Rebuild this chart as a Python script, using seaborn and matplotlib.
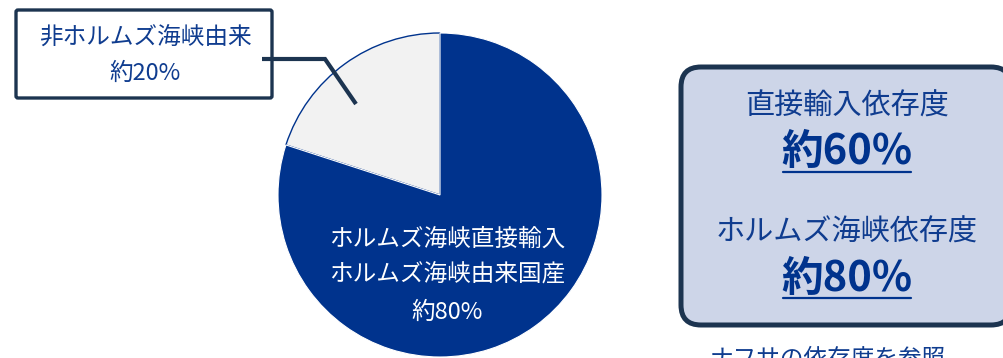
import matplotlib
matplotlib.use("Agg")
import matplotlib.pyplot as plt
from matplotlib.patches import FancyBboxPatch, Rectangle
from matplotlib.lines import Line2D
import seaborn as sns

# Shares of supply by origin (percent)
categories = ["非ホルムズ海峡由来", "ホルムズ海峡直接輸入\nホルムズ海峡由来国産"]
shares = [20, 80]

# Summary panel
summary_labels = ["直接輸入依存度", "ホルムズ海峡依存度"]
summary_values = [60, 80]
footnote = "ナフサの依存度を参照"

sns.set_theme(style="white")
plt.rcParams["font.family"] = ["Noto Sans CJK JP", "DejaVu Sans"]

NAVY = "#00338d"
LIGHT = "#f2f2f2"
EDGE = "#1c3450"
TEXT_BLUE = "#0f3c8f"
PANEL = "#cdd5e8"

W, H = 1004, 358
fig = plt.figure(figsize=(W / 100, H / 100), dpi=100)

# Pie axes: centre (440, 195) px, radius 162 px
cx, cy, r = 440, 195, 162
ax = fig.add_axes([(cx - r) / W, (H - cy - r) / H, 2 * r / W, 2 * r / H])
palette = sns.color_palette([LIGHT, NAVY])
wedges, _ = ax.pie(shares, colors=palette, startangle=90, counterclock=True,
                   wedgeprops=dict(linewidth=0.8, edgecolor="white"))
wedges[0].set_edgecolor(NAVY)
wedges[0].set_linewidth(1.0)
ax.set_xlim(-1, 1)
ax.set_ylim(-1, 1)
ax.set_aspect("equal")
ax.axis("off")

# Overlay in pixel coordinates for labels and boxes
ov = fig.add_axes([0, 0, 1, 1], zorder=5)
ov.set_xlim(0, W)
ov.set_ylim(H, 0)
ov.axis("off")
ov.patch.set_alpha(0)

# Callout box for the small slice
ov.add_patch(FancyBboxPatch((16, 10), 256, 88, boxstyle="round,pad=0,rounding_size=2",
                            facecolor="white", edgecolor=EDGE, linewidth=2.4))
ov.text(145, 38, categories[0], ha="center", va="center", fontsize=17, color=TEXT_BLUE)
ov.text(145, 73, f"約{shares[0]}%", ha="center", va="center", fontsize=17, color=TEXT_BLUE)
ov.add_line(Line2D([262, 325, 356], [59, 59, 104], color=EDGE, linewidth=3,
                   solid_capstyle="butt", solid_joinstyle="miter"))

# Label inside the large slice
big_lines = categories[1].split("\n") + [f"約{shares[1]}%"]
for y, line in zip([239, 275, 312], big_lines):
    ov.text(447, y, line, ha="center", va="center", fontsize=17, color="white")

# Summary panel
ov.add_patch(FancyBboxPatch((681, 67), 330, 258, boxstyle="round,pad=0,rounding_size=20",
                            facecolor=PANEL, edgecolor=EDGE, linewidth=3.6))
value_texts = []
for (ly, vy), label, val in zip([(107, 152), (233, 279)], summary_labels, summary_values):
    ov.text(847, ly, label, ha="center", va="center", fontsize=21, color=TEXT_BLUE)
    t = ov.text(847, vy, f"約{val}%", ha="center", va="center", fontsize=30,
                fontweight="bold", color=NAVY)
    value_texts.append(t)

fig.canvas.draw()
renderer = fig.canvas.get_renderer()
inv = ov.transData.inverted()
for t, uy in zip(value_texts, [172, 298]):
    bb = t.get_window_extent(renderer)
    (x0, _), (x1, _) = inv.transform([(bb.x0, bb.y0), (bb.x1, bb.y1)])
    ov.add_line(Line2D([x0 + 2, x1 - 2], [uy, uy], color=NAVY, linewidth=1.6))

ov.text(828, 348, footnote, ha="center", va="top", fontsize=17, color=TEXT_BLUE)

fig.savefig("out.png", dpi=100)
